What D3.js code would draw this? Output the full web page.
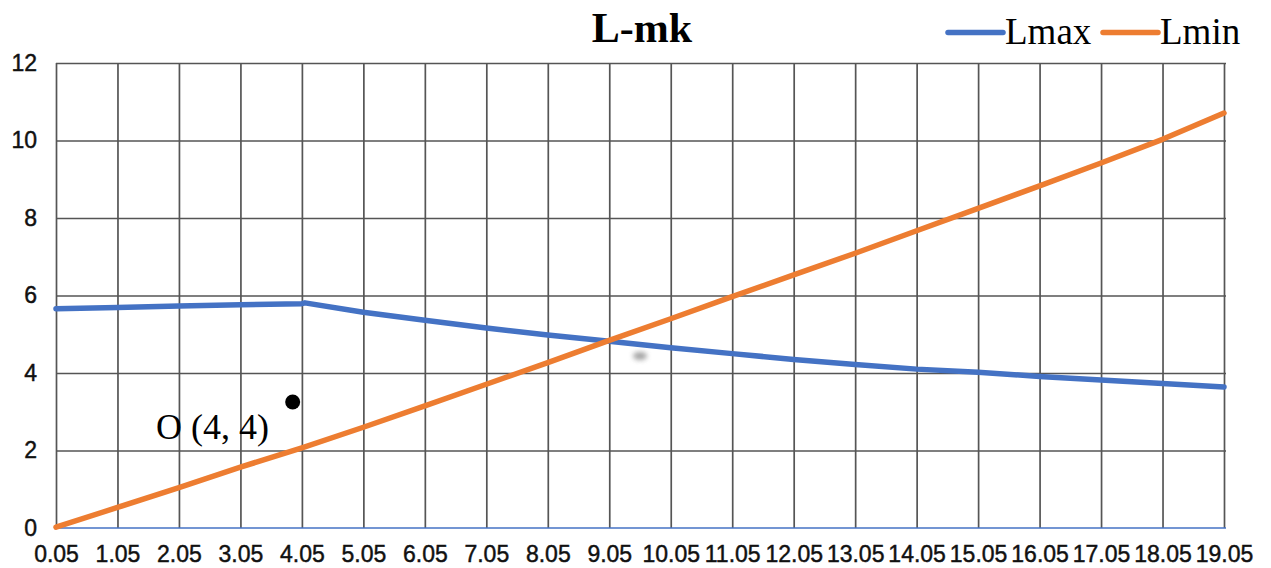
<!DOCTYPE html>
<html>
<head>
<meta charset="utf-8">
<script src="https://cdn.jsdelivr.net/npm/d3@7"></script>
<style>
  html, body { margin: 0; padding: 0; background: #fff; }
  svg { display: block; }
  .tick-label text { font-family: "Liberation Sans", Arial, sans-serif; font-size: 23px; fill: #111; stroke: #111; stroke-width: 0.45px; }
</style>
</head>
<body>
<svg id="chart" width="1271" height="568"></svg>
<script>
// Category ticks along the x axis
const xTicks = [0.05, 1.05, 2.05, 3.05, 4.05, 5.05, 6.05, 7.05, 8.05, 9.05,
                10.05, 11.05, 12.05, 13.05, 14.05, 15.05, 16.05, 17.05, 18.05, 19.05];
const yTicks = [0, 2, 4, 6, 8, 10, 12];

// Lmax series (peaks just past 4.05, then decays)
const lmaxX = [0.05, 1.05, 2.05, 3.05, 4.05, 4.1, 5.05, 6.05, 7.05, 8.05, 9.05,
               10.05, 11.05, 12.05, 13.05, 14.05, 15.05, 16.05, 17.05, 18.05, 19.05];
const lmaxY = [5.66, 5.69, 5.73, 5.76, 5.79, 5.81, 5.57, 5.36, 5.16, 4.98, 4.82,
               4.65, 4.50, 4.35, 4.22, 4.10, 4.02, 3.91, 3.82, 3.73, 3.64];

// Lmin series, one value per tick
const lminY = [0.02, 0.53, 1.04, 1.57, 2.07, 2.60, 3.15, 3.71, 4.27, 4.84,
               5.40, 5.97, 6.53, 7.09, 7.67, 8.25, 8.83, 9.42, 10.03, 10.71];

// Marked point and its caption
const markX = [3.9];
const markY = [3.25];
const markText = "O (4, 4)";

const seriesNames = ["Lmax", "Lmin"];
const seriesColors = ["#4472C4", "#ED7D31"];

const svg = d3.select("#chart");
const plotLeft = 56, plotRight = 1224, plotTop = 63, plotBottom = 528;

const x = d3.scaleLinear().domain([0.05, 19.05]).range([plotLeft, plotRight]);
const y = d3.scaleLinear().domain([0, 12]).range([plotBottom, plotTop]);

// Horizontal gridlines
svg.append("g")
  .attr("transform", `translate(${plotLeft},0)`)
  .call(d3.axisLeft(y).tickValues(yTicks.filter(d => d > 0)).tickSize(-(plotRight - plotLeft + 2)).tickFormat(""))
  .call(g => g.select(".domain").remove())
  .call(g => g.selectAll("line").attr("stroke", "#555").attr("stroke-width", 1.7));

// Vertical gridlines
svg.append("g")
  .attr("transform", `translate(0,${plotBottom})`)
  .call(d3.axisBottom(x).tickValues(xTicks).tickSize(-(plotBottom - plotTop)).tickFormat(""))
  .call(g => g.select(".domain").remove())
  .call(g => g.selectAll("line").attr("stroke", "#555").attr("stroke-width", 1.7));

// Baseline at zero
svg.append("line")
  .attr("x1", x(0.05)).attr("x2", x(19.05) + 2)
  .attr("y1", y(0)).attr("y2", y(0))
  .attr("stroke", "#4472C4").attr("stroke-width", 1.6);

// Y tick labels
svg.append("g")
  .attr("class", "tick-label")
  .attr("transform", `translate(${plotLeft},0)`)
  .call(d3.axisLeft(y).tickValues(yTicks).tickSize(0).tickPadding(19).tickFormat(d3.format("d")))
  .call(g => g.select(".domain").remove());

// X tick labels
svg.append("g")
  .attr("class", "tick-label")
  .attr("transform", `translate(0,${plotBottom})`)
  .call(d3.axisBottom(x).tickValues(xTicks).tickSize(0).tickPadding(18).tickFormat(d3.format(".2f")))
  .call(g => g.select(".domain").remove());

// Soft grey smudge on the plot
const defs = svg.append("defs");
defs.append("filter").attr("id", "soft")
  .attr("x", "-100%").attr("y", "-100%").attr("width", "300%").attr("height", "300%")
  .append("feGaussianBlur").attr("stdDeviation", 2.5);
svg.append("ellipse")
  .attr("cx", x(9.55)).attr("cy", y(4.44))
  .attr("rx", 7).attr("ry", 4)
  .attr("fill", "#8a8a8a").attr("opacity", 0.8)
  .attr("filter", "url(#soft)");

// Series lines
const line = d3.line().x(d => x(d[0])).y(d => y(d[1]));
const lmaxPts = lmaxX.map((v, i) => [v, lmaxY[i]]);
const lminPts = xTicks.map((v, i) => [v, lminY[i]]);

svg.append("path").datum(lmaxPts)
  .attr("d", line).attr("fill", "none")
  .attr("stroke", seriesColors[0]).attr("stroke-width", 5.5)
  .attr("stroke-linecap", "round").attr("stroke-linejoin", "round");
svg.append("path").datum(lminPts)
  .attr("d", line).attr("fill", "none")
  .attr("stroke", seriesColors[1]).attr("stroke-width", 5.5)
  .attr("stroke-linecap", "round").attr("stroke-linejoin", "round");

// Marked point
svg.selectAll("circle.mark").data(markX).join("circle")
  .attr("class", "mark")
  .attr("cx", (d, i) => x(d)).attr("cy", (d, i) => y(markY[i]))
  .attr("r", 7.5).attr("fill", "#000");
svg.append("text")
  .attr("x", 156).attr("y", 439)
  .attr("font-family", "'Liberation Serif', 'Times New Roman', serif")
  .attr("font-size", 36).attr("fill", "#000")
  .text(markText);

// Title
svg.append("text")
  .attr("x", 642).attr("y", 42)
  .attr("text-anchor", "middle")
  .attr("font-family", "'Liberation Serif', 'Times New Roman', serif")
  .attr("font-weight", "bold")
  .attr("font-size", 42).attr("fill", "#000")
  .text("L-mk");

// Legend
const legendItems = [
  { name: seriesNames[0], color: seriesColors[0], x0: 948 },
  { name: seriesNames[1], color: seriesColors[1], x0: 1103 }
];
const lg = svg.append("g");
legendItems.forEach(it => {
  lg.append("line")
    .attr("x1", it.x0).attr("x2", it.x0 + 55)
    .attr("y1", 32.5).attr("y2", 32.5)
    .attr("stroke", it.color).attr("stroke-width", 5.5)
    .attr("stroke-linecap", "round");
  lg.append("text")
    .attr("x", it.x0 + 57).attr("y", 44)
    .attr("font-family", "'Liberation Serif', 'Times New Roman', serif")
    .attr("font-size", 37).attr("fill", "#000")
    .text(it.name);
});
</script>
</body>
</html>
